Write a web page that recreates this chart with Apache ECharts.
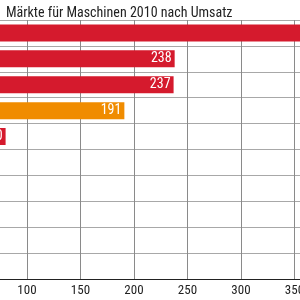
<!DOCTYPE html>
<html><head><meta charset="utf-8">
<script src="https://cdn.jsdelivr.net/npm/echarts@6/dist/echarts.min.js"></script>
<style>html,body{margin:0;padding:0;background:#fff;overflow:hidden;width:300px;height:300px}
#c{position:absolute;left:-80px;top:0;width:428px;height:300px}</style>
</head><body><div id="c"></div>
<script>
const titleText = 'Märkte für Maschinen 2010 nach Umsatz';
const categories = ['China', 'USA', 'Japan', 'Deutschland', 'Italien', 'Südkorea', 'Frankreich', 'Brasilien', 'Indien', 'Russland'];
const values = [395, 238, 237, 191, 80, 70, 62, 55, 48, 42];
const barColors = ['#d51a2d', '#d51a2d', '#d51a2d', '#f08c00', '#d51a2d', '#d51a2d', '#d51a2d', '#d51a2d', '#d51a2d', '#d51a2d'];
const xTicks = [0, 50, 100, 150, 200, 250, 300, 350, 400];

const font = "'Liberation Sans Narrow', 'Roboto Condensed', 'DejaVu Sans Condensed', sans-serif";
const chart = echarts.init(document.getElementById('c'));
chart.setOption({
  animation: false,
  title: { text: titleText, left: 81, top: 1, textStyle: { fontFamily: font, fontSize: 14, fontWeight: 'normal', color: '#222' } },
  grid: { left: 0, right: 0, top: 20, bottom: 21, containLabel: false, outerBoundsMode: 'none' },
  xAxis: {
    type: 'value', min: xTicks[0], max: xTicks[xTicks.length - 1], interval: 50,
    axisLine: { show: true, onZero: false, lineStyle: { color: '#222', width: 1 } }, axisTick: { show: false },
    axisLabel: { fontFamily: font, fontSize: 13, color: '#222', margin: 5 },
    splitLine: { show: true, lineStyle: { color: '#8a8a8a', width: 1 } }
  },
  yAxis: {
    type: 'category', data: categories, inverse: true,
    axisLine: { show: false }, axisTick: { show: false }, axisLabel: { show: false },
    splitLine: { show: true, lineStyle: { color: '#a8a8a8', width: 1 } }
  },
  series: [{
    type: 'bar', barWidth: 17,
    data: values.map((v, i) => ({ value: v, itemStyle: { color: barColors[i] } })),
    label: { show: true, position: 'insideRight', distance: 3, color: '#fff', fontFamily: font, fontSize: 14 }
  }]
});
</script></body></html>
